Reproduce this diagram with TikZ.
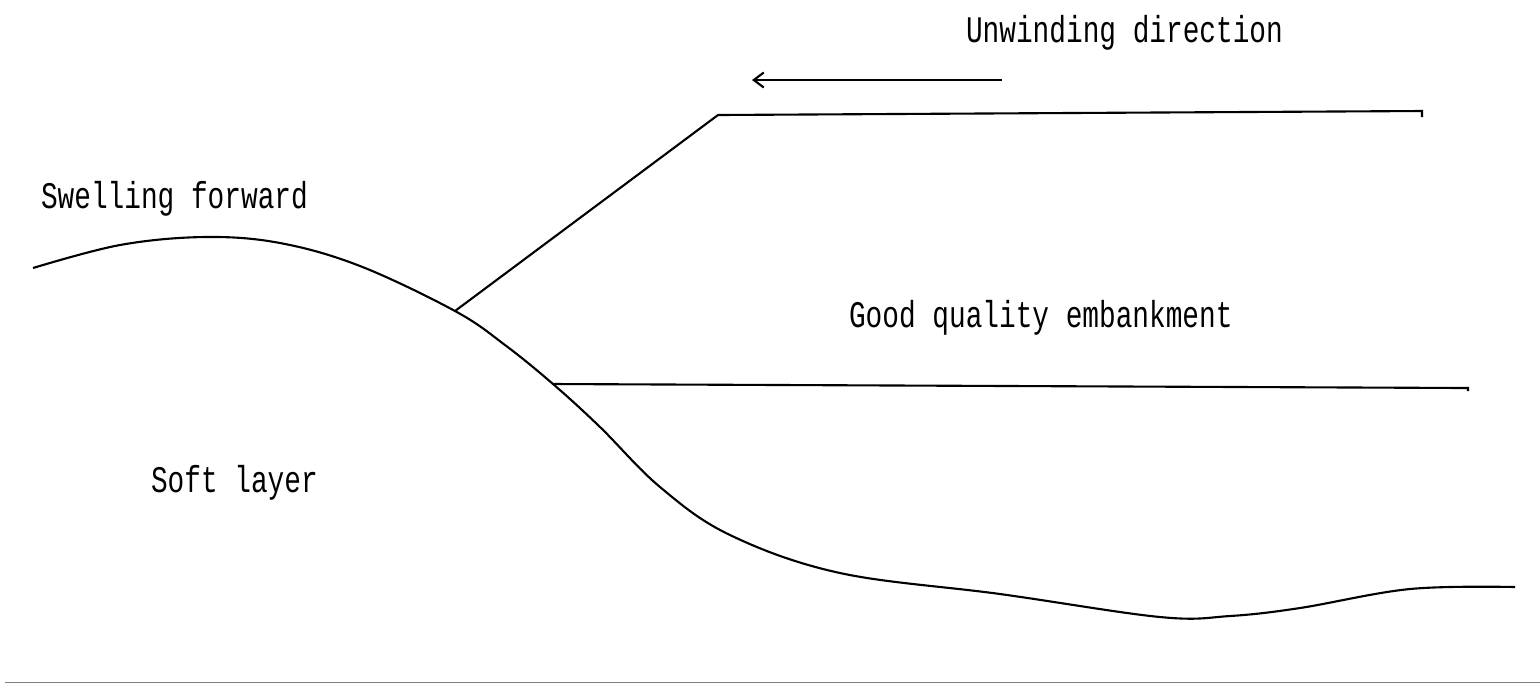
\documentclass[tikz,border=0pt]{standalone}
\usepackage{fontspec}
\newfontfamily\labelfont{Liberation Mono}
\usetikzlibrary{arrows.meta}

\begin{document}
\begin{tikzpicture}[x=0.01cm, y=-0.01cm, line width=0.6pt,
  >={Straight Barb[length=1mm, width=1.5mm]},
  lbl/.style={font=\labelfont\fontsize{7.9}{9}\selectfont, inner sep=0pt, anchor=base west, yscale=1.35}]
  \useasboundingbox (0,0) rectangle (1540,684);
  % ground surface
  \coordinate (Kink) at (455,311); \coordinate (Toe) at (553,384);
  \draw plot[smooth, tension=0.6] coordinates {(33,268) (120,245) (205,237) (280,243) (360,266)
    (Kink) (505,345) (Toe) (600,427) (660,487) (730,535) (840,573) (1000,594) (1160,617)
    (1230,616) (1300,608) (1410,589) (1515,587)};
  % embankment
  \coordinate (Crest) at (718,115); \coordinate (TopEnd) at (1422,111);
  \coordinate (MidEnd) at (1468,388);
  \draw (Kink) -- (Crest) -- (TopEnd) -- ++(0,6);
  \draw (Toe) -- (MidEnd) -- ++(0,3);
  % direction arrow
  \coordinate (ArrS) at (1002,80); \coordinate (ArrE) at (752,80);
  \draw[->] (ArrS) -- (ArrE);
  % labels
  \node[lbl] (unwind) at (965,42) {Unwinding direction};
  \node[lbl] (swell) at (40,208) {Swelling forward};
  \node[lbl] (embank) at (848,327) {Good quality embankment};
  \node[lbl] (soft) at (150,492) {Soft layer};
  % bottom rule
  \coordinate (RuleL) at (5,682.5); \coordinate (RuleR) at (1540,682.5);
  \draw[gray, line width=0.45pt] (RuleL) -- (RuleR);
\end{tikzpicture}
\end{document}
